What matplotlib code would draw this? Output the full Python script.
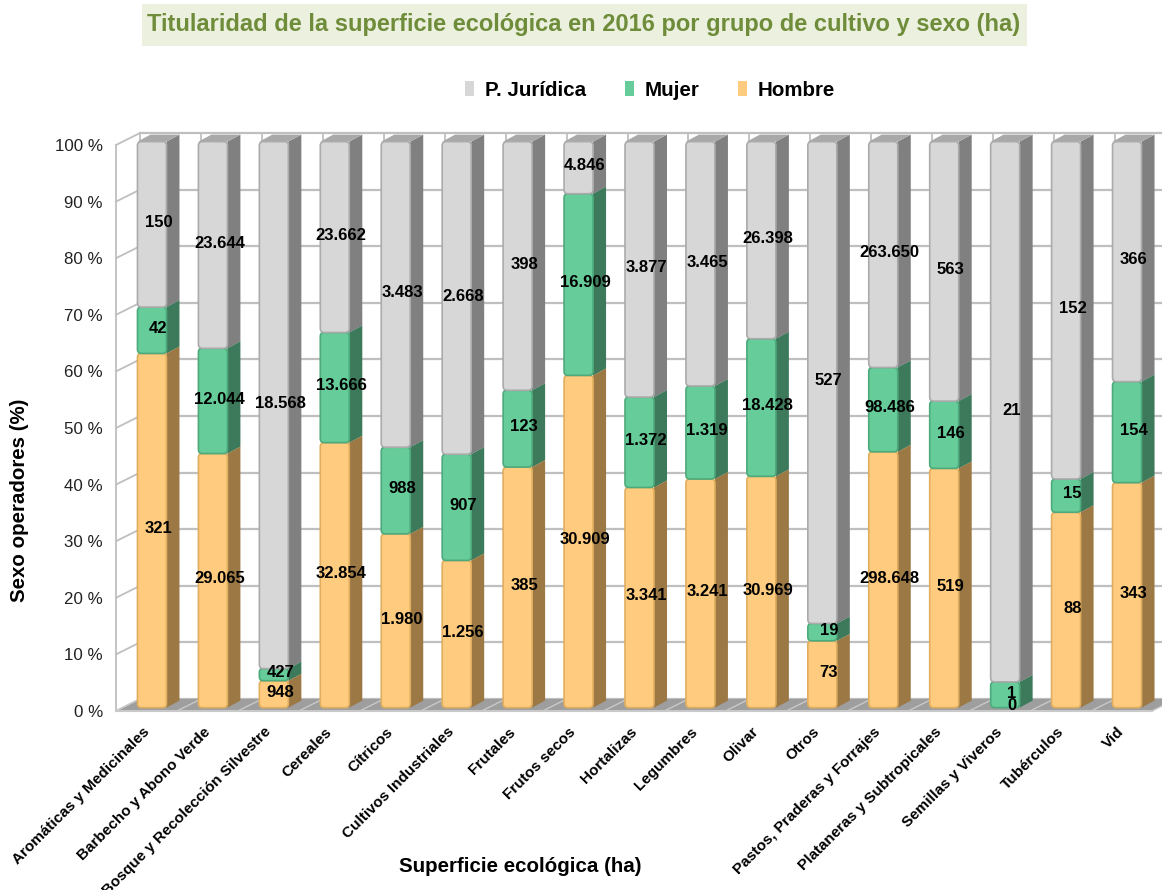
import matplotlib
matplotlib.use("Agg")
import matplotlib.pyplot as plt
from matplotlib.patches import Polygon, FancyBboxPatch, Rectangle, Patch

plt.rcParams["font.family"] = ["Liberation Sans", "DejaVu Sans"]

# ---- data (ha) ----
categories = [
    "Aromáticas y Medicinales", "Barbecho y Abono Verde", "Bosque y Recolección Silvestre",
    "Cereales", "Cítricos", "Cultivos Industriales", "Frutales", "Frutos secos",
    "Hortalizas", "Legumbres", "Olivar", "Otros", "Pastos, Praderas y Forrajes",
    "Plataneras y Subtropicales", "Semillas y Viveros", "Tubérculos", "Vid",
]
hombre = [321, 29065, 948, 32854, 1980, 1256, 385, 30909, 3341, 3241, 30969,
          73, 298648, 519, 0, 88, 343]
mujer = [42, 12044, 427, 13666, 988, 907, 123, 16909, 1372, 1319, 18428,
         19, 98486, 146, 1, 15, 154]
juridica = [150, 23644, 18568, 23662, 3483, 2668, 398, 4846, 3877, 3465, 26398,
            527, 263650, 563, 21, 152, 366]
series_names = ["Hombre", "Mujer", "P. Jurídica"]
yticks = list(range(0, 101, 10))
ytick_labels = [f"{v} %" for v in yticks]

title = "Titularidad de la superficie ecológica en 2016 por grupo de cultivo y sexo (ha)"

# face / side / top colours per series
face_col = {"Hombre": "#FFCC7F", "Mujer": "#66CC99", "P. Jurídica": "#D7D7D7"}
edge_col = {"Hombre": "#E0AE5E", "Mujer": "#4DAA7C", "P. Jurídica": "#ABABAB"}
side_col = {"Hombre": "#9C7845", "Mujer": "#3D7A5B", "P. Jurídica": "#808080"}
top_col = {"Hombre": "#D9AE68", "Mujer": "#52A67D", "P. Jurídica": "#A9A9A9"}

W, H = 1162, 890
fig = plt.figure(figsize=(W / 100, H / 100), dpi=100)
fig.patch.set_facecolor("white")

ax = fig.add_axes([116 / W, 1 - 711 / H, 1036 / W, 566 / H])
n = len(categories)
ax.set_xlim(-0.5, n - 0.5)
ax.set_ylim(0, 100)
for s in ax.spines.values():
    s.set_visible(False)
ax.patch.set_visible(False)

# pixel scale of the data units
PX = 1036 / n
PY = 566 / 100
DX, DY = 24 / PX, 12 / PY          # depth of the back wall
FC, FW = 5.5 / PX, 29 / PX         # bar face centre shift and width
SD, SR = 13 / PX, 7 / PY           # bar side depth and rise
BY = 0.6                           # bars sit slightly back from the front edge

grid_c = "#BFBFBF"
# back wall grid
x0, x1 = -0.5, n - 0.5
for v in yticks:
    ax.plot([x0 + DX, x1 + DX], [v + DY, v + DY], color=grid_c, lw=1.6,
            zorder=0, clip_on=False, solid_capstyle="butt")
    ax.plot([x0, x0 + DX], [v, v + DY], color=grid_c, lw=1.3, zorder=0, clip_on=False)
for k in range(n + 1):
    ax.plot([x0 + DX + k, x0 + DX + k], [DY, 100 + DY], color=grid_c, lw=1.3,
            zorder=0, clip_on=False)
ax.plot([x0, x0], [0, 100], color=grid_c, lw=1.3, zorder=0, clip_on=False)

# floor
ax.add_patch(Polygon([(x0, 0), (x1, 0), (x1 + DX, DY), (x0 + DX, DY)],
                     closed=True, facecolor="#9E9E9E", edgecolor="none",
                     zorder=1, clip_on=False))
for k in range(n + 1):
    ax.plot([x0 + k, x0 + k + DX], [0, DY], color="#C9C9C9", lw=1.0, zorder=1.1,
            clip_on=False)
ax.plot([x0, x1], [0, 0], color="#C9C9C9", lw=1.5, zorder=1.2, clip_on=False)

aspect = PX / PY
series_vals = {"Hombre": hombre, "Mujer": mujer, "P. Jurídica": juridica}


def fmt(v):
    return f"{v:,}".replace(",", ".")


for i in range(n):
    total = hombre[i] + mujer[i] + juridica[i]
    bottom = 0.0
    l = i + FC - FW / 2
    r = i + FC + FW / 2
    for name in series_names:
        val = series_vals[name][i]
        pct = 100.0 * val / total
        y0 = bottom + BY
        y1 = bottom + pct + BY
        z = 2 + i * 0.01
        if pct > 0:
            ax.add_patch(Polygon([(r, y0), (r + SD, y0 + SR), (r + SD, y1 + SR), (r, y1)],
                                 closed=True, facecolor=side_col[name], edgecolor="none",
                                 zorder=z, clip_on=False))
            ax.add_patch(Polygon([(l, y1), (r, y1), (r + SD, y1 + SR), (l + SD, y1 + SR)],
                                 closed=True, facecolor=top_col[name], edgecolor="none",
                                 zorder=z, clip_on=False))
            rad = min(4 / PX, 0.45 * pct / aspect)
            ax.add_patch(FancyBboxPatch((l, y0), FW, pct,
                                        boxstyle=f"round,pad=0,rounding_size={rad}",
                                        mutation_aspect=aspect,
                                        facecolor=face_col[name], edgecolor=edge_col[name],
                                        lw=1.2, zorder=z + 0.001, clip_on=False))
        ax.text(i + FC + SD / 2, bottom + pct / 2 + BY + 0.3, fmt(val),
                ha="center", va="center", fontsize=12, fontweight="bold",
                color="black", zorder=5, clip_on=False)
        bottom += pct

# axes ticks
ax.set_yticks(yticks, ytick_labels)
ax.tick_params(axis="y", length=0, pad=9.5, labelsize=12.2, labelcolor="#222222")
ax.set_xticks([k - 0.07 for k in range(n)], categories)
ax.tick_params(axis="x", length=0, pad=10)
for lab in ax.get_xticklabels():
    lab.set_rotation(45)
    lab.set_ha("right")
    lab.set_va("top")
    lab.set_rotation_mode("anchor")
    lab.set_fontsize(11)
    lab.set_fontweight("bold")

# axis titles
fig.text(20 / W, 1 - 500 / H, "Sexo operadores (%)", rotation=90, ha="center",
         va="center", fontsize=14.8, fontweight="bold")
fig.text(520 / W, 1 - 867 / H, "Superficie ecológica (ha)", ha="center",
         va="center", fontsize=14.8, fontweight="bold")

# title with tinted band
fig.add_artist(Rectangle((142 / W, 1 - 46 / H), 885 / W, 42 / H,
                         transform=fig.transFigure, facecolor="#EBF1DE",
                         edgecolor="none", zorder=0))
fig.text(584 / W, 1 - 25 / H, title, ha="center", va="center", fontsize=17,
         fontweight="bold", color="#6F8C3A", zorder=1)

# legend
handles = [Patch(facecolor=face_col[nm], edgecolor="none", label=nm)
           for nm in ["P. Jurídica", "Mujer", "Hombre"]]
fig.legend(handles=handles, loc="center", bbox_to_anchor=(650 / W, 1 - 90 / H),
           ncol=3, frameon=False, prop={"size": 14.8, "weight": "bold"},
           handlelength=0.45, handleheight=0.7, handletextpad=0.5,
           columnspacing=1.9)

fig.savefig("out.png", dpi=100)
